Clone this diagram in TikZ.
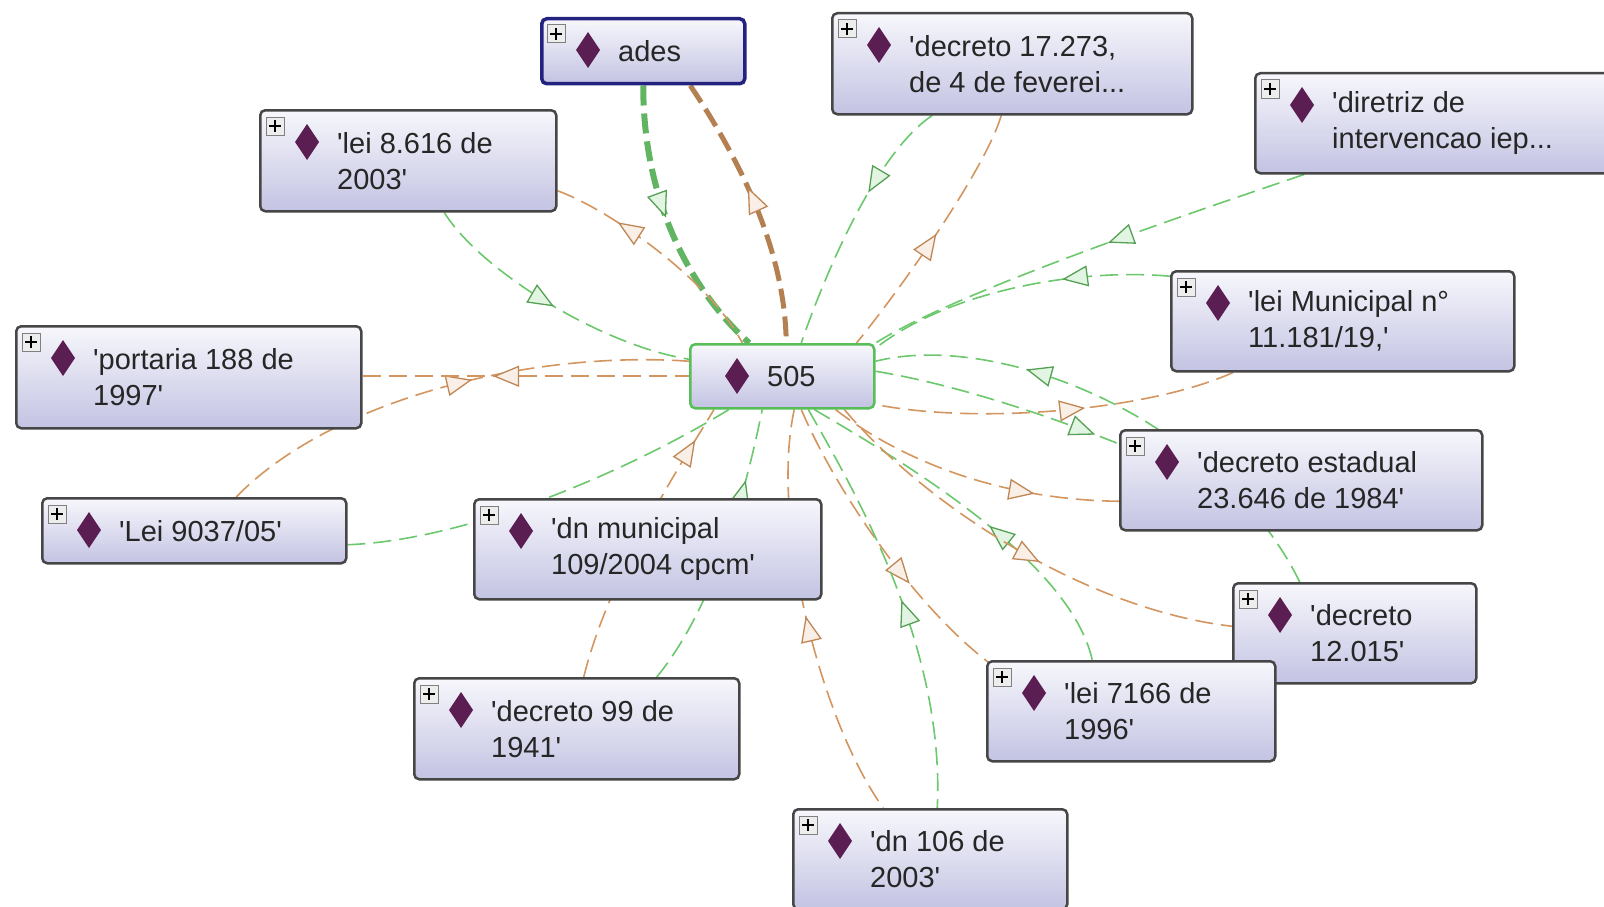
\documentclass[tikz,border=0pt]{standalone}
\usepackage{fontspec}
\setmainfont{Liberation Sans}
\usetikzlibrary{calc, positioning, arrows.meta, decorations.markings}
\definecolor{boxtop}{HTML}{F7F7FC}
\definecolor{boxbot}{HTML}{C3C3E3}
\definecolor{boxline}{HTML}{464646}
\definecolor{diam}{HTML}{5B1E52}
\definecolor{egreen}{HTML}{6CC86C}
\definecolor{eorange}{HTML}{D49660}
\definecolor{selblue}{HTML}{23237F}
\definecolor{selgreen}{HTML}{58BE58}
\newcommand{\qq}{\textquotesingle}
\pgfdeclarelayer{edges}
\pgfsetlayers{edges,main}

\tikzset{
  indiv/.style={draw=boxline, line width=2.5pt, rounded corners=5pt, top color=boxtop, bottom color=boxbot, inner sep=0pt, anchor=north west},
  lbl/.style={align=left, text=black!85, inner sep=0pt, font=\fontsize{29}{36}\selectfont},
  gedge/.style={draw=egreen, line width=1.6pt, dash pattern=on 18pt off 8pt},
  oedge/.style={draw=eorange, line width=1.6pt, dash pattern=on 18pt off 8pt},
  gthick/.style={draw=egreen!90!black, line width=6pt, dash pattern=on 20pt off 8pt},
  othick/.style={draw=eorange!85!black, line width=5pt, dash pattern=on 20pt off 8pt},
  gtri/.tip={Triangle[length=26pt, width=21pt, line width=1.3pt, fill=egreen!20]},
  otri/.tip={Triangle[length=26pt, width=21pt, line width=1.3pt, fill=eorange!15]},
  gfwd/.style={postaction={decorate, decoration={markings, mark=at position #1 with {\arrow[solid, egreen!80!black]{gtri}}}}},
  gback/.style={postaction={decorate, decoration={markings, mark=at position #1 with {\arrowreversed[solid, egreen!80!black]{gtri}}}}},
  ofwd/.style={postaction={decorate, decoration={markings, mark=at position #1 with {\arrow[solid, eorange!90!black]{otri}}}}},
  oback/.style={postaction={decorate, decoration={markings, mark=at position #1 with {\arrowreversed[solid, eorange!90!black]{otri}}}}},
  plusbox/.style={draw=black!50, fill=black!7, line width=1pt}
}

\begin{document}
\begin{tikzpicture}[x=1pt, y=-1pt]
\clip (0,0) rectangle (1604,907);

% individuals
\node[indiv, draw=selblue, line width=3.5pt, minimum width=203, minimum height=65] (ades) at (540,17) {};
\node[indiv, minimum width=360, minimum height=101] (dec17273) at (831,12) {};
\node[indiv, minimum width=360, minimum height=100] (diretriz) at (1254,72) {};
\node[indiv, minimum width=296, minimum height=101] (lei8616) at (259,109) {};
\node[indiv, minimum width=345, minimum height=102] (portaria) at (15,325) {};
\node[indiv, draw=selgreen, line width=2.5pt, minimum width=184, minimum height=64] (n505) at (689,343) {};
\node[indiv, minimum width=343, minimum height=100] (leimun) at (1170,270) {};
\node[indiv, minimum width=362, minimum height=100] (decest) at (1119,429) {};
\node[indiv, minimum width=304, minimum height=65] (lei9037) at (41,497) {};
\node[indiv, minimum width=347, minimum height=100] (dnmun) at (473,498) {};
\node[indiv, minimum width=243, minimum height=100] (dec12015) at (1232,582) {};
\node[indiv, minimum width=288, minimum height=100] (lei7166) at (986,660) {};
\node[indiv, minimum width=325, minimum height=101] (dec99) at (413,677) {};
\node[indiv, minimum width=274, minimum height=100] (dn106) at (792,808) {};

% labels
\node[lbl, right=78pt of ades.west] (adest) {ades};
\node[lbl, right=78pt of dec17273.west] (dec17273t) {\qq decreto 17.273,\\de 4 de feverei...};
\node[lbl, right=78pt of diretriz.west] (diretrizt) {\qq diretriz de\\intervencao iep...};
\node[lbl, right=78pt of lei8616.west] (lei8616t) {\qq lei 8.616 de\\2003\qq};
\node[lbl, right=78pt of portaria.west] (portariat) {\qq portaria 188 de\\1997\qq};
\node[lbl, right=78pt of n505.west] (n505t) {505};
\node[lbl, right=78pt of leimun.west] (leimunt) {\qq lei Municipal n°\\11.181/19,\qq};
\node[lbl, right=78pt of decest.west] (decestt) {\qq decreto estadual\\23.646 de 1984\qq};
\node[lbl, right=78pt of lei9037.west] (lei9037t) {\qq Lei 9037/05\qq};
\node[lbl, right=78pt of dnmun.west] (dnmunt) {\qq dn municipal\\109/2004 cpcm\qq};
\node[lbl, right=78pt of dec12015.west] (dec12015t) {\qq decreto\\12.015\qq};
\node[lbl, right=78pt of lei7166.west] (lei7166t) {\qq lei 7166 de\\1996\qq};
\node[lbl, right=78pt of dec99.west] (dec99t) {\qq decreto 99 de\\1941\qq};
\node[lbl, right=78pt of dn106.west] (dn106t) {\qq dn 106 de\\2003\qq};

% icons
\foreach \n in {ades,dec17273,diretriz,lei8616,portaria,n505,leimun,decest,lei9037,dnmun,dec12015,lei7166,dec99,dn106} {
  \fill[diam] ($(\n.north west)+(48,15)$) -- ++(12,18) -- ++(-12,18) -- ++(-12,-18) -- cycle;
}
\foreach \n in {ades,dec17273,diretriz,lei8616,portaria,leimun,decest,lei9037,dnmun,dec12015,lei7166,dec99,dn106} {
  \draw[plusbox] ($(\n.north west)+(7,8)$) rectangle +(18,18);
  \draw[line width=1.6pt] ($(\n.north west)+(16,11)$) -- +(0,12);
  \draw[line width=1.6pt] ($(\n.north west)+(10,17)$) -- +(12,0);
}

\begin{pgfonlayer}{edges}
\fill[white] (0,0) rectangle (1604,907);
% selected node
\draw[gthick, gfwd=0.47] (ades.south) .. controls (643,200) and (690,290) .. ($(n505.north)+(-33,0)$);
\draw[othick, oback=0.42] ($(ades.south)+(47,0)$) .. controls (740,160) and (785,250) .. ($(n505.north)+(4,0)$);
% upper left
\draw[gedge, gfwd=0.5] ($(lei8616.south)+(36,0)$) .. controls (480,270) and (600,345) .. ($(n505.west)+(0,-17)$);
\draw[oedge, oback=0.28] ($(lei8616.east)+(0,30)$) .. controls (610,210) and (710,280) .. ($(n505.north)+(-40,0)$);
% upper right
\draw[gedge, gfwd=0.38] ($(dec17273.south)+(-80,0)$) .. controls (880,150) and (830,260) .. ($(n505.north)+(19,0)$);
\draw[oedge, oback=0.5] ($(dec17273.south)+(-11,0)$) .. controls (985,170) and (900,290) .. ($(n505.north east)+(-19,0)$);
\draw[gedge, gfwd=0.45] ($(diretriz.south west)+(50,0)$) .. controls (1200,210) and (960,290) .. (n505.north east);
\draw[gedge, gfwd=0.35] ($(leimun.west)+(0,-45)$) .. controls (1080,268) and (950,290) .. ($(n505.east)+(0,-28)$);
\draw[gedge, gfwd=0.7] ($(dec12015.north)+(-55,0)$) .. controls (1220,420) and (1000,330) .. ($(n505.east)+(0,-15)$);
\draw[oedge, oback=0.42] ($(leimun.south west)+(63,0)$) .. controls (1150,410) and (980,425) .. ($(n505.south east)+(0,-5)$);
% lower right
\draw[gedge, gfwd=0.9] ($(n505.east)+(0,-5)$) .. controls (960,385) and (1060,420) .. ($(decest.north west)+(0,15)$);
\draw[oedge, ofwd=0.72] ($(n505.south east)+(-40,0)$) .. controls (900,460) and (1000,500) .. ($(decest.west)+(0,21)$);
\draw[gedge, gback=0.55] ($(n505.south)+(32,0)$) .. controls (900,460) and (1070,560) .. ($(lei7166.north)+(-39,0)$);
\draw[oedge, ofwd=0.55] ($(n505.south)+(62,0)$) .. controls (930,510) and (1090,610) .. ($(dec12015.west)+(0,-7)$);
\draw[oedge, ofwd=0.65] ($(n505.south)+(19,0)$) .. controls (840,500) and (920,610) .. ($(lei7166.north west)+(2,2)$);
\draw[gedge, gback=0.5] ($(n505.south)+(26,0)$) .. controls (860,500) and (945,650) .. ($(dn106.north)+(7,0)$);
\draw[oedge, oback=0.5] ($(n505.south)+(12,0)$) .. controls (770,520) and (820,720) .. ($(dn106.north)+(-47,0)$);
% lower left
\draw[oedge, ofwd=0.88] ($(dec99.north)+(7,0)$) .. controls (610,570) and (690,450) .. ($(n505.south west)+(25,0)$);
\draw[gedge, gfwd=0.75] ($(dec99.north)+(80,0)$) .. controls (720,600) and (750,470) .. ($(n505.south)+(-20,0)$);
\draw[gedge] ($(lei9037.east)+(0,14)$) .. controls (470,540) and (630,470) .. ($(n505.south west)+(40,0)$);
\draw[oedge, ofwd=0.55] ($(lei9037.north)+(42,0)$) .. controls (330,400) and (530,350) .. ($(n505.west)+(0,-15)$);
\draw[oedge, oback=0.4] ($(portaria.east)+(0,-1)$) -- (n505.west);
\end{pgfonlayer}
\end{tikzpicture}
\end{document}
